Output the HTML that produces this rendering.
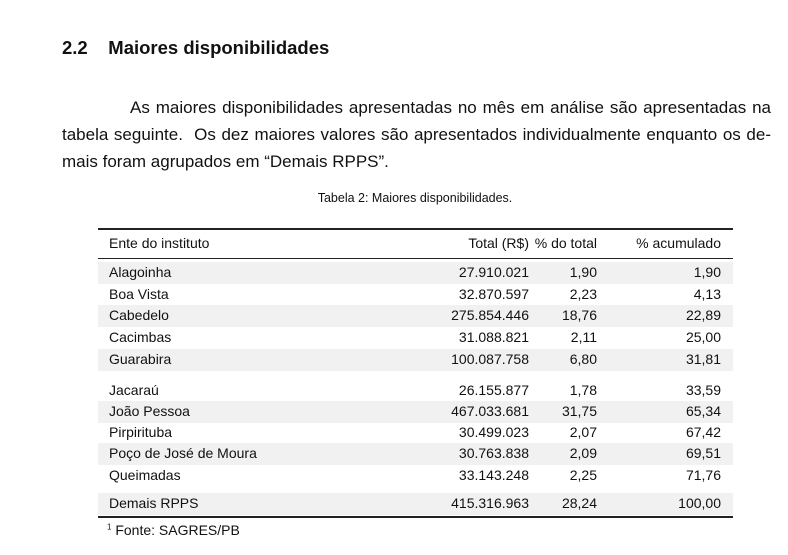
<!DOCTYPE html>
<html><head><meta charset="utf-8"><style>
body{margin:0;width:788px;height:555px;background:#fff;font-family:"Liberation Sans",sans-serif;color:#111;position:relative;overflow:hidden}
.a{position:absolute;white-space:nowrap}
h2{position:absolute;left:62px;top:37px;margin:0;font-size:18.5px;font-weight:bold}
.p{position:absolute;left:62px;width:709px;font-size:17px;line-height:27px;text-align:justify;text-align-last:justify}
.cap{position:absolute;left:0;width:830px;text-align:center;top:191px;font-size:12.5px}
.rule{position:absolute;left:98px;width:635px;background:#222}
.row{position:absolute;left:98px;width:635px;height:21.5px;font-size:14px;line-height:21.5px}
.row.g{background:#f1f1f1}
.row span{position:absolute}
.c0{left:11px}.c1{right:204px}.c2{right:136px}.c3{right:12px}
</style></head><body>
<h2>2.2&nbsp;&nbsp;&nbsp;&nbsp;Maiores disponibilidades</h2>
<div class="p" style="top:94px;text-indent:68px">As maiores disponibilidades apresentadas no mês em análise são apresentadas na</div>
<div class="p" style="top:121px">tabela seguinte.&nbsp; Os dez maiores valores são apresentados individualmente enquanto os de-</div>
<div class="p" style="top:148px;text-align-last:left">mais foram agrupados em “Demais RPPS”.</div>
<div class="cap">Tabela 2: Maiores disponibilidades.</div>
<div class="rule" style="top:228px;height:1.5px"></div>
<div class="row" style="top:233px"><span class="c0">Ente do instituto</span><span class="c1">Total (R$)</span><span class="c2">% do total</span><span class="c3">% acumulado</span></div>
<div class="rule" style="top:258px;height:1px"></div>
<div id="rows"></div>
<div class="rule" style="top:516px;height:1.5px"></div>
<div class="a" style="left:107px;top:522px;font-size:14px"><sup style="font-size:8px">1</sup> Fonte: SAGRES/PB</div>
<script>
const names=["Alagoinha","Boa Vista","Cabedelo","Cacimbas","Guarabira","Jacaraú","João Pessoa","Pirpirituba","Poço de José de Moura","Queimadas","Demais RPPS"];
const totals=["27.910.021","32.870.597","275.854.446","31.088.821","100.087.758","26.155.877","467.033.681","30.499.023","30.763.838","33.143.248","415.316.963"];
const pcts=["1,90","2,23","18,76","2,11","6,80","1,78","31,75","2,07","2,09","2,25","28,24"];
const cums=["1,90","4,13","22,89","25,00","31,81","33,59","65,34","67,42","69,51","71,76","100,00"];
const tops=[262,284,305,327,349,380,401,422,443,465,493];
const grays=[1,0,1,0,1,0,1,0,1,0,1];
const c=document.getElementById('rows');
names.forEach((n,i)=>{
 const r=document.createElement('div');
 r.className='row'+(grays[i]?' g':'');
 r.style.top=tops[i]+'px';
 
 
 r.innerHTML='<span class="c0">'+n+'</span><span class="c1">'+totals[i]+'</span><span class="c2">'+pcts[i]+'</span><span class="c3">'+cums[i]+'</span>';
 c.appendChild(r);
});
</script>
</body></html>
